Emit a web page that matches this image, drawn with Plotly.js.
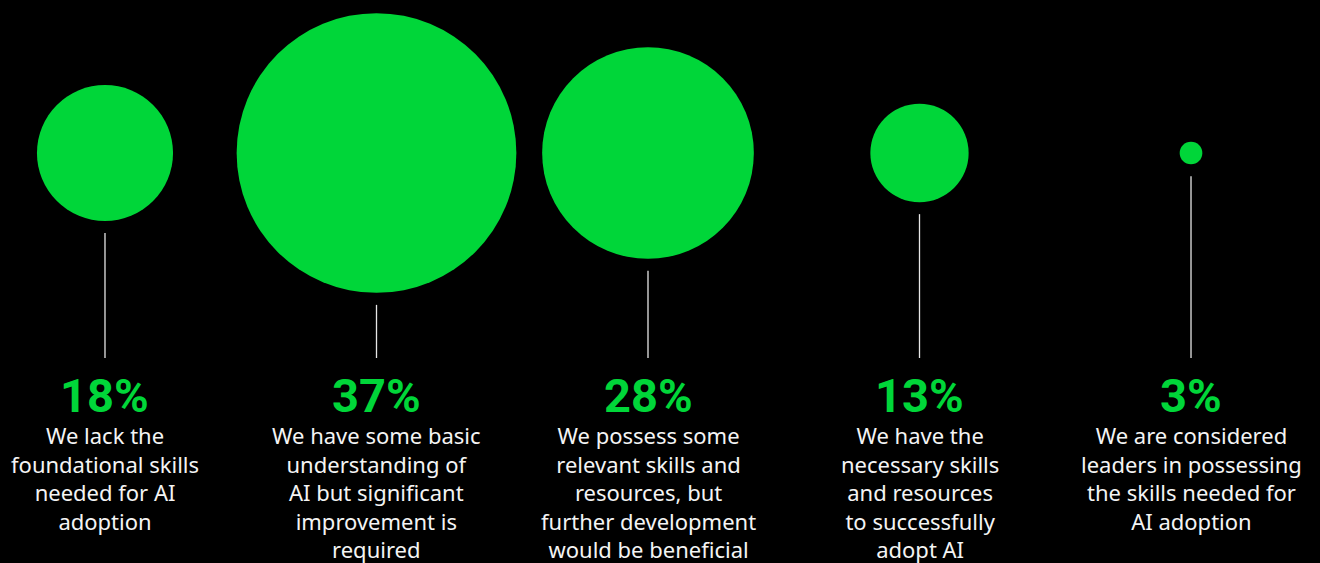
<!DOCTYPE html>
<html><head><meta charset="utf-8">
<script src="https://cdn.plot.ly/plotly-3.0.1.min.js"></script>
<style>html,body{margin:0;padding:0;background:#000;}#chart{width:1320px;height:563px;}</style>
</head><body><div id="chart"></div>
<script>
const categories = ["lack", "basic", "relevant", "necessary", "leaders"];
const values = [18, 37, 28, 13, 3];
const pctLabels = ["18%", "37%", "28%", "13%", "3%"];
const descriptions = [
  "We lack the<br>foundational skills<br>needed for AI<br>adoption",
  "We have some basic<br>understanding of<br>AI but significant<br>improvement is<br>required",
  "We possess some<br>relevant skills and<br>resources, but<br>further development<br>would be beneficial",
  "We have the<br>necessary skills<br>and resources<br>to successfully<br>adopt AI",
  "We are considered<br>leaders in possessing<br>the skills needed for<br>AI adoption"
];

const GREEN = "#00d639";
const PX_PER_PCT = 7.56;   // diameter in px per percentage point
const CY = 153;
const LINE_END = 358;
const GAP = 12;

const traces = [];
categories.forEach((c, i) => {
  const r = values[i] * PX_PER_PCT / 2;
  traces.push({
    x: [c, c], y: [CY + r + GAP, LINE_END], mode: "lines",
    line: {color: "#e6e6e6", width: 1.3}, hoverinfo: "skip", showlegend: false
  });
});
traces.push({
  x: categories, y: categories.map(() => CY), mode: "markers",
  marker: {size: values, sizemode: "diameter", sizeref: 1 / PX_PER_PCT, color: GREEN, opacity: 1, line: {width: 0}},
  showlegend: false, hoverinfo: "skip"
});

const annotations = [];
categories.forEach((c, i) => {
  annotations.push({
    x: c, y: 395, xref: "x", yref: "y", text: "<b>" + pctLabels[i] + "</b>", showarrow: false,
    xanchor: "center", yanchor: "middle",
    font: {family: "Roboto, Inter, sans-serif", size: 47, color: GREEN}
  });
  annotations.push({
    x: c, y: 418, xref: "x", yref: "y", text: descriptions[i], showarrow: false,
    xanchor: "center", yanchor: "top", align: "center",
    font: {family: "'Noto Sans', 'Open Sans', sans-serif", size: 22, color: "#f4f4f4"}
  });
});

const layout = {
  width: 1320, height: 563,
  margin: {l: 0, r: 0, t: 0, b: 0},
  paper_bgcolor: "#000", plot_bgcolor: "#000",
  xaxis: {type: "category", range: [-0.3867, 4.4751], visible: false, fixedrange: true},
  yaxis: {range: [563, 0], visible: false, fixedrange: true},
  annotations: annotations,
  showlegend: false
};
Plotly.newPlot("chart", traces, layout, {displayModeBar: false, staticPlot: true});
</script>
</body></html>
